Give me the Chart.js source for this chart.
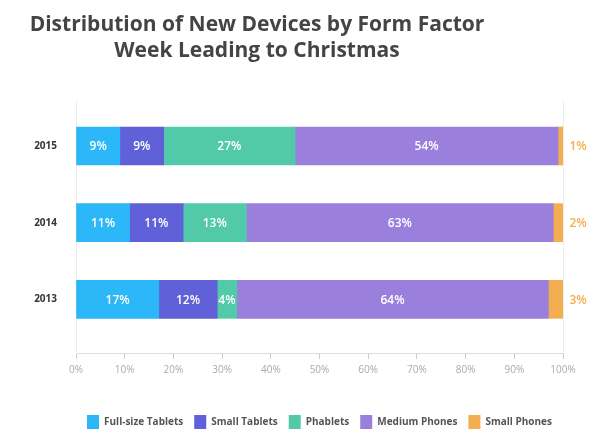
<!DOCTYPE html>
<html>
<head>
<meta charset="utf-8">
<script src="https://cdn.jsdelivr.net/npm/chart.js@4"></script>
<style>
  html, body { margin: 0; padding: 0; background: #fff; }
  #wrap { width: 600px; height: 443px; }
</style>
</head>
<body>
<div id="wrap"><canvas id="devices"></canvas></div>
<script>
const years = ['2015', '2014', '2013'];
const fullSizeTablets = [9, 11, 17];
const smallTablets = [9, 11, 12];
const phablets = [27, 13, 4];
const mediumPhones = [54, 63, 64];
const smallPhones = [1, 2, 3];
const titleLines = ['Distribution of New Devices by Form Factor', 'Week Leading to Christmas'];

const FONT = "'Open Sans', sans-serif";

// bars sit on a numeric year axis so the gap above and below can differ
const toPoints = values => values.map((v, i) => ({ x: v, y: Number(years[i]) }));

const titlePlugin = {
  id: 'twoLineTitle',
  afterDraw(chart) {
    const ctx = chart.ctx;
    ctx.save();
    ctx.fillStyle = '#444';
    ctx.font = 'bold 21px ' + FONT;
    ctx.textAlign = 'center';
    ctx.textBaseline = 'middle';
    ctx.fillText(titleLines[0], 257, 25);
    ctx.fillText(titleLines[1], 257, 51);
    ctx.restore();
  },
};

const valueLabels = {
  id: 'valueLabels',
  afterDatasetsDraw(chart) {
    const ctx = chart.ctx;
    const last = chart.data.datasets.length - 1;
    ctx.save();
    ctx.font = '600 12px ' + FONT;
    ctx.textAlign = 'center';
    ctx.textBaseline = 'middle';
    chart.data.datasets.forEach((ds, di) => {
      chart.getDatasetMeta(di).data.forEach((bar, i) => {
        const text = ds.data[i].x + '%';
        if (di === last) {
          ctx.fillStyle = '#f0b050';
          ctx.fillText(text, bar.x + 15, bar.y + 1);
        } else {
          ctx.fillStyle = '#fff';
          ctx.fillText(text, (bar.x + bar.base) / 2, bar.y + 1);
        }
      });
    });
    ctx.restore();
  },
};

const devicesEl = document.getElementById('devices').getContext('2d');
const devicesChart = new Chart(devicesEl, {
  type: 'bar',
  data: {
    datasets: [
      { label: 'Full-size Tablets', data: toPoints(fullSizeTablets), backgroundColor: '#2bb7f8' },
      { label: 'Small Tablets', data: toPoints(smallTablets), backgroundColor: '#6060d8' },
      { label: 'Phablets', data: toPoints(phablets), backgroundColor: '#52c9a8' },
      { label: 'Medium Phones', data: toPoints(mediumPhones), backgroundColor: '#9a80dc' },
      { label: 'Small Phones', data: toPoints(smallPhones), backgroundColor: '#f2ae50' },
    ],
  },
  options: {
    indexAxis: 'y',
    responsive: true,
    maintainAspectRatio: false,
    animation: false,
    barThickness: 38,
    layout: { padding: { top: 100, right: 37, bottom: 4, left: 0 } },
    scales: {
      x: {
        stacked: true,
        min: 0,
        max: 100,
        ticks: {
          stepSize: 10,
          callback: v => v + '%',
          color: '#aaa',
          font: { family: FONT, size: 10 },
          padding: 5,
          maxRotation: 0,
        },
        grid: {
          drawOnChartArea: true,
          color: ctx => (ctx.tick && ctx.tick.value === 100 ? '#eee' : 'rgba(0,0,0,0)'),
          tickColor: '#ccc',
          tickLength: 6,
        },
        border: { color: '#ddd' },
        afterFit: scale => { scale.height = 51; },
      },
      y: {
        type: 'linear',
        stacked: true,
        offset: false,
        bounds: 'ticks',
        min: 2012.3,
        max: 2015.6,
        ticks: {
          stepSize: 1,
          includeBounds: false,
          callback: v => String(v),
          color: '#333',
          font: { family: FONT, size: 10, weight: 'bold' },
          padding: 11,
        },
        grid: { display: false },
        border: { display: true, color: '#eee' },
        afterFit: scale => { scale.width = 76; },
      },
    },
    plugins: {
      legend: {
        position: 'bottom',
        fullSize: false,
        labels: {
          boxWidth: 12,
          boxHeight: 14,
          padding: 11,
          color: '#555',
          font: { family: FONT, size: 10, weight: 'bold' },
        },
      },
      title: { display: false },
      tooltip: { enabled: false },
    },
  },
  plugins: [titlePlugin, valueLabels],
});
</script>
</body>
</html>
